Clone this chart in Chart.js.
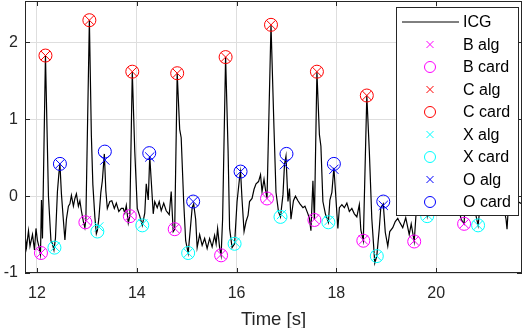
<!DOCTYPE html>
<html lang="en">
<head>
    <meta charset="UTF-8">
    <title>ICG</title>
    <script src="https://cdn.jsdelivr.net/npm/chart.js"></script>
    <style>
        html, body { margin: 0; padding: 0; background: #fff; }
    </style>
</head>
<body>
<canvas id="icg-chart" width="526" height="328"></canvas>
<script>
    // ICG trace (time in s, amplitude)
    const icgTime = [11.76, 11.79, 11.83, 11.86, 11.91, 11.95, 11.98, 12.01, 12.04, 12.07, 12.09, 12.11, 12.17, 12.23, 12.28, 12.31, 12.34, 12.37, 12.41, 12.44, 12.46, 12.49, 12.53, 12.56, 12.59, 12.63, 12.66, 12.69, 12.73, 12.76, 12.79, 12.83, 12.86, 12.89, 12.93, 12.96, 12.98, 13.05, 13.09, 13.12, 13.16, 13.19, 13.21, 13.24, 13.28, 13.31, 13.35, 13.38, 13.41, 13.46, 13.50, 13.55, 13.59, 13.64, 13.69, 13.73, 13.76, 13.79, 13.83, 13.86, 13.91, 13.96, 14.01, 14.06, 14.11, 14.16, 14.19, 14.23, 14.26, 14.29, 14.33, 14.36, 14.41, 14.45, 14.49, 14.54, 14.59, 14.65, 14.69, 14.73, 14.76, 14.81, 14.86, 14.89, 14.94, 14.98, 15.03, 15.07, 15.11, 15.14, 15.18, 15.21, 15.26, 15.31, 15.36, 15.41, 15.46, 15.51, 15.56, 15.59, 15.62, 15.66, 15.69, 15.72, 15.78, 15.83, 15.86, 15.91, 15.96, 16.01, 16.06, 16.08, 16.11, 16.15, 16.19, 16.23, 16.26, 16.31, 16.35, 16.39, 16.44, 16.48, 16.51, 16.55, 16.58, 16.61, 16.69, 16.75, 16.79, 16.84, 16.88, 16.93, 16.96, 16.99, 17.03, 17.06, 17.09, 17.14, 17.18, 17.23, 17.27, 17.33, 17.37, 17.43, 17.46, 17.49, 17.53, 17.56, 17.61, 17.66, 17.69, 17.73, 17.78, 17.84, 17.87, 17.91, 17.95, 17.98, 18.03, 18.06, 18.11, 18.16, 18.21, 18.26, 18.31, 18.36, 18.41, 18.46, 18.49, 18.54, 18.61, 18.66, 18.71, 18.77, 18.81, 18.86, 18.89, 18.94, 18.98, 19.03, 19.07, 19.13, 19.18, 19.23, 19.26, 19.33, 19.39, 19.46, 19.50, 19.56, 19.60, 19.66, 19.72, 19.78, 19.82, 19.88, 19.95, 20.00, 20.06, 20.10, 20.16, 20.22, 20.28, 20.34, 20.40, 20.46, 20.50, 20.56, 20.60, 20.65, 20.72, 20.78, 20.84, 20.90, 20.96, 21.02, 21.10, 21.18, 21.26, 21.34, 21.40, 21.42, 21.45, 21.52, 21.60, 21.66, 21.72];
    const icgValue = [-0.50, -0.67, -0.45, -0.65, -0.50, -0.70, -0.42, -0.58, -0.66, -0.76, -0.05, -0.55, 1.83, 0.00, -0.58, -0.62, -0.70, -0.55, 0.06, 0.30, 0.42, 0.03, -0.32, -0.57, -0.30, -0.13, -0.10, 0.01, -0.13, -0.03, 0.03, -0.13, -0.06, -0.19, -0.33, -0.41, -0.30, 2.29, 0.79, 0.15, -0.27, -0.49, -0.45, -0.29, 0.05, 0.20, 0.55, 0.07, -0.16, -0.07, -0.06, -0.16, -0.09, -0.20, -0.16, -0.16, -0.22, -0.12, -0.35, -0.26, 1.62, 0.58, -0.16, -0.26, -0.38, -0.22, 0.16, -0.05, 0.52, 0.20, -0.23, -0.07, -0.15, -0.07, -0.19, -0.09, -0.19, -0.24, 0.06, -0.46, -0.43, 1.60, 0.87, 0.76, -0.07, -0.58, -0.74, -0.45, -0.15, -0.10, -0.30, -0.67, -0.50, -0.64, -0.55, -0.68, -0.55, -0.66, -0.51, -0.62, -0.42, -0.67, -0.77, -0.30, 1.81, 0.59, -0.42, -0.67, -0.62, -0.07, 0.24, 0.32, -0.05, -0.46, -0.33, -0.25, -0.07, -0.03, 0.09, 0.16, 0.19, 0.28, 0.06, 0.22, 0.08, -0.03, 2.23, 0.88, 0.05, -0.20, -0.27, 0.02, 0.41, 0.52, -0.07, 0.10, -0.30, -0.06, 0.00, -0.06, -0.10, -0.15, -0.13, -0.23, -0.29, -0.45, 0.20, -0.31, 1.62, 0.80, 0.65, -0.07, -0.23, -0.34, -0.05, 0.05, 0.37, 0.08, -0.42, -0.15, -0.11, -0.15, -0.09, -0.20, -0.16, -0.23, -0.27, -0.11, -0.44, -0.58, 1.31, 0.59, -0.29, -0.87, -0.78, -0.42, -0.15, -0.10, -0.47, -0.65, -0.46, -0.41, -0.33, -0.29, -0.33, -0.41, -0.28, -0.50, -0.36, -0.59, -0.20, 1.55, 0.40, -0.10, -0.26, 0.00, 0.30, -0.05, -0.15, -0.10, -0.18, -0.12, -0.20, -0.15, -0.22, -0.18, -0.30, -0.36, 0.20, 1.45, 0.30, -0.20, -0.38, 0.00, 0.30, -0.05, -0.12, -0.08, -0.15, -0.10, -0.30, -0.43, -0.10, -0.05, -0.12, -0.08, -0.10];

    // detected points [time, amplitude]
    const bAlg = [[12.08, -0.74], [12.99, -0.32], [13.87, -0.25], [14.76, -0.42], [15.69, -0.76], [16.61, -0.03], [17.56, -0.30], [18.54, -0.57], [19.56, -0.58], [20.56, -0.36]];
    const bCard = [[12.08, -0.74], [12.97, -0.34], [13.86, -0.26], [14.76, -0.43], [15.69, -0.77], [16.61, -0.03], [17.56, -0.31], [18.54, -0.58], [19.56, -0.59], [20.56, -0.36]];
    const cAlg = [[12.17, 1.83], [13.05, 2.29], [13.91, 1.62], [14.81, 1.60], [15.78, 1.81], [16.69, 2.23], [17.61, 1.62], [18.61, 1.31], [19.66, 1.55], [20.65, 1.45]];
    const cCard = [[12.17, 1.83], [13.05, 2.29], [13.91, 1.62], [14.81, 1.60], [15.78, 1.81], [16.69, 2.23], [17.61, 1.62], [18.61, 1.31], [19.66, 1.55], [20.65, 1.45]];
    const xAlg = [[12.36, -0.66], [13.24, -0.40], [14.12, -0.36], [15.03, -0.74], [15.97, -0.60], [16.90, -0.24], [17.85, -0.32], [18.81, -0.78], [19.83, -0.25], [20.84, -0.38]];
    const xCard = [[12.35, -0.67], [13.21, -0.46], [14.11, -0.38], [15.03, -0.74], [15.96, -0.62], [16.88, -0.27], [17.84, -0.34], [18.81, -0.78], [19.82, -0.26], [20.84, -0.38]];
    const oAlg = [[12.46, 0.42], [13.36, 0.47], [14.26, 0.51], [15.13, -0.07], [16.08, 0.32], [16.96, 0.41], [17.95, 0.35], [18.94, -0.12], [19.95, 0.28], [20.96, 0.28]];
    const oCard = [[12.46, 0.42], [13.36, 0.58], [14.25, 0.56], [15.13, -0.07], [16.08, 0.32], [17.00, 0.55], [17.95, 0.42], [18.94, -0.07], [19.95, 0.30], [20.96, 0.30]];

    const xTicks = [12, 14, 16, 18, 20];
    const yTicks = [-1, 0, 1, 2];

    const toPoints = pairs => pairs.map(p => ({ x: p[0], y: p[1] }));

    function markerSet(label, pairs, color, style) {
        return {
            label: label,
            data: toPoints(pairs),
            showLine: false,
            pointStyle: style,
            pointRadius: 6.5,
            pointHoverRadius: 6.5,
            pointBorderWidth: 1,
            pointBorderColor: color,
            pointBackgroundColor: 'rgba(0,0,0,0)',
            order: 1
        };
    }

    // frame, inner ticks and the boxed legend drawn on top of the plot
    const frameLegend = {
        id: 'frameLegend',
        afterDatasetsDraw(chart) {
            const ctx = chart.ctx;
            const a = chart.chartArea;
            const xs = chart.scales.x, ys = chart.scales.y;
            ctx.save();
            ctx.strokeStyle = '#262626';
            ctx.lineWidth = 1;
            ctx.beginPath();
            xTicks.forEach(t => {
                const px = Math.round(xs.getPixelForValue(t)) + 0.5;
                ctx.moveTo(px, a.bottom); ctx.lineTo(px, a.bottom - 5);
                ctx.moveTo(px, a.top); ctx.lineTo(px, a.top + 5);
            });
            yTicks.forEach(v => {
                const py = Math.round(ys.getPixelForValue(v)) + 0.5;
                ctx.moveTo(a.left, py); ctx.lineTo(a.left + 5, py);
                ctx.moveTo(a.right, py); ctx.lineTo(a.right - 5, py);
            });
            ctx.stroke();
            ctx.strokeRect(Math.round(a.left) + 0.5, Math.round(a.top) + 0.5,
                Math.round(a.right - a.left) - 1, Math.round(a.bottom - a.top) - 1);

            // legend
            const lx = 396, ly = 7, lw = 122, lh = 208;
            ctx.fillStyle = '#fff';
            ctx.fillRect(lx, ly, lw, lh);
            ctx.strokeStyle = '#262626';
            ctx.strokeRect(lx + 0.5, ly + 0.5, lw, lh);
            ctx.font = '16px "Liberation Sans", Arial, sans-serif';
            ctx.textBaseline = 'middle';
            ctx.textAlign = 'left';
            chart.data.datasets.forEach((ds, i) => {
                const row = 22 + i * 22.5;
                const mx = 430;
                ctx.lineWidth = 1;
                if (ds.showLine) {
                    ctx.strokeStyle = ds.borderColor;
                    ctx.beginPath();
                    ctx.moveTo(402, row); ctx.lineTo(459, row);
                    ctx.stroke();
                } else {
                    ctx.strokeStyle = ds.pointBorderColor;
                    ctx.beginPath();
                    if (ds.pointStyle === 'circle') {
                        ctx.arc(mx, row, 5.5, 0, Math.PI * 2);
                    } else {
                        ctx.moveTo(mx - 3.5, row - 3.5); ctx.lineTo(mx + 3.5, row + 3.5);
                        ctx.moveTo(mx - 3.5, row + 3.5); ctx.lineTo(mx + 3.5, row - 3.5);
                    }
                    ctx.stroke();
                }
                ctx.fillStyle = '#000';
                ctx.fillText(ds.label, 463, row + 1);
            });
            ctx.restore();
        }
    };

    const tickFont = { family: '"Liberation Sans", Arial, sans-serif', size: 16 };

    new Chart(document.getElementById('icg-chart'), {
        type: 'scatter',
        data: {
            datasets: [
                {
                    label: 'ICG',
                    data: icgTime.map((t, i) => ({ x: t, y: icgValue[i] })),
                    showLine: true,
                    borderColor: '#000',
                    borderWidth: 1.2,
                    pointRadius: 0,
                    pointHoverRadius: 0,
                    order: 2
                },
                markerSet('B alg', bAlg, '#ff00ff', 'crossRot'),
                markerSet('B card', bCard, '#ff00ff', 'circle'),
                markerSet('C alg', cAlg, '#ff0000', 'crossRot'),
                markerSet('C card', cCard, '#ff0000', 'circle'),
                markerSet('X alg', xAlg, '#00ffff', 'crossRot'),
                markerSet('X card', xCard, '#00ffff', 'circle'),
                markerSet('O alg', oAlg, '#0000ff', 'crossRot'),
                markerSet('O card', oCard, '#0000ff', 'circle')
            ]
        },
        options: {
            responsive: false,
            animation: false,
            layout: { autoPadding: false, padding: { top: 1, right: 4, left: 0, bottom: 0 } },
            plugins: {
                legend: { display: false },
                tooltip: { enabled: false }
            },
            scales: {
                x: {
                    type: 'linear',
                    min: 11.76,
                    max: 21.72,
                    afterBuildTicks: s => { s.ticks = xTicks.map(v => ({ value: v })); },
                    afterFit: s => { s.height = 55; s.paddingLeft = 0; s.paddingRight = 0; },
                    border: { display: false },
                    grid: { color: '#dedede', drawTicks: false },
                    ticks: { font: tickFont, color: '#262626', padding: 11, maxRotation: 0 },
                    title: {
                        display: true,
                        text: 'Time [s]',
                        color: '#262626',
                        font: { family: '"Liberation Sans", Arial, sans-serif', size: 18.5 },
                        padding: { top: 0, bottom: -3 }
                    }
                },
                y: {
                    min: -1,
                    max: 2.54,
                    afterBuildTicks: s => { s.ticks = yTicks.map(v => ({ value: v })); },
                    afterFit: s => { s.width = 25; s.paddingTop = 0; s.paddingBottom = 0; },
                    border: { display: false },
                    grid: { color: '#dedede', drawTicks: false },
                    ticks: { font: tickFont, color: '#262626', padding: 7 }
                }
            }
        },
        plugins: [frameLegend]
    });
</script>
</body>
</html>
